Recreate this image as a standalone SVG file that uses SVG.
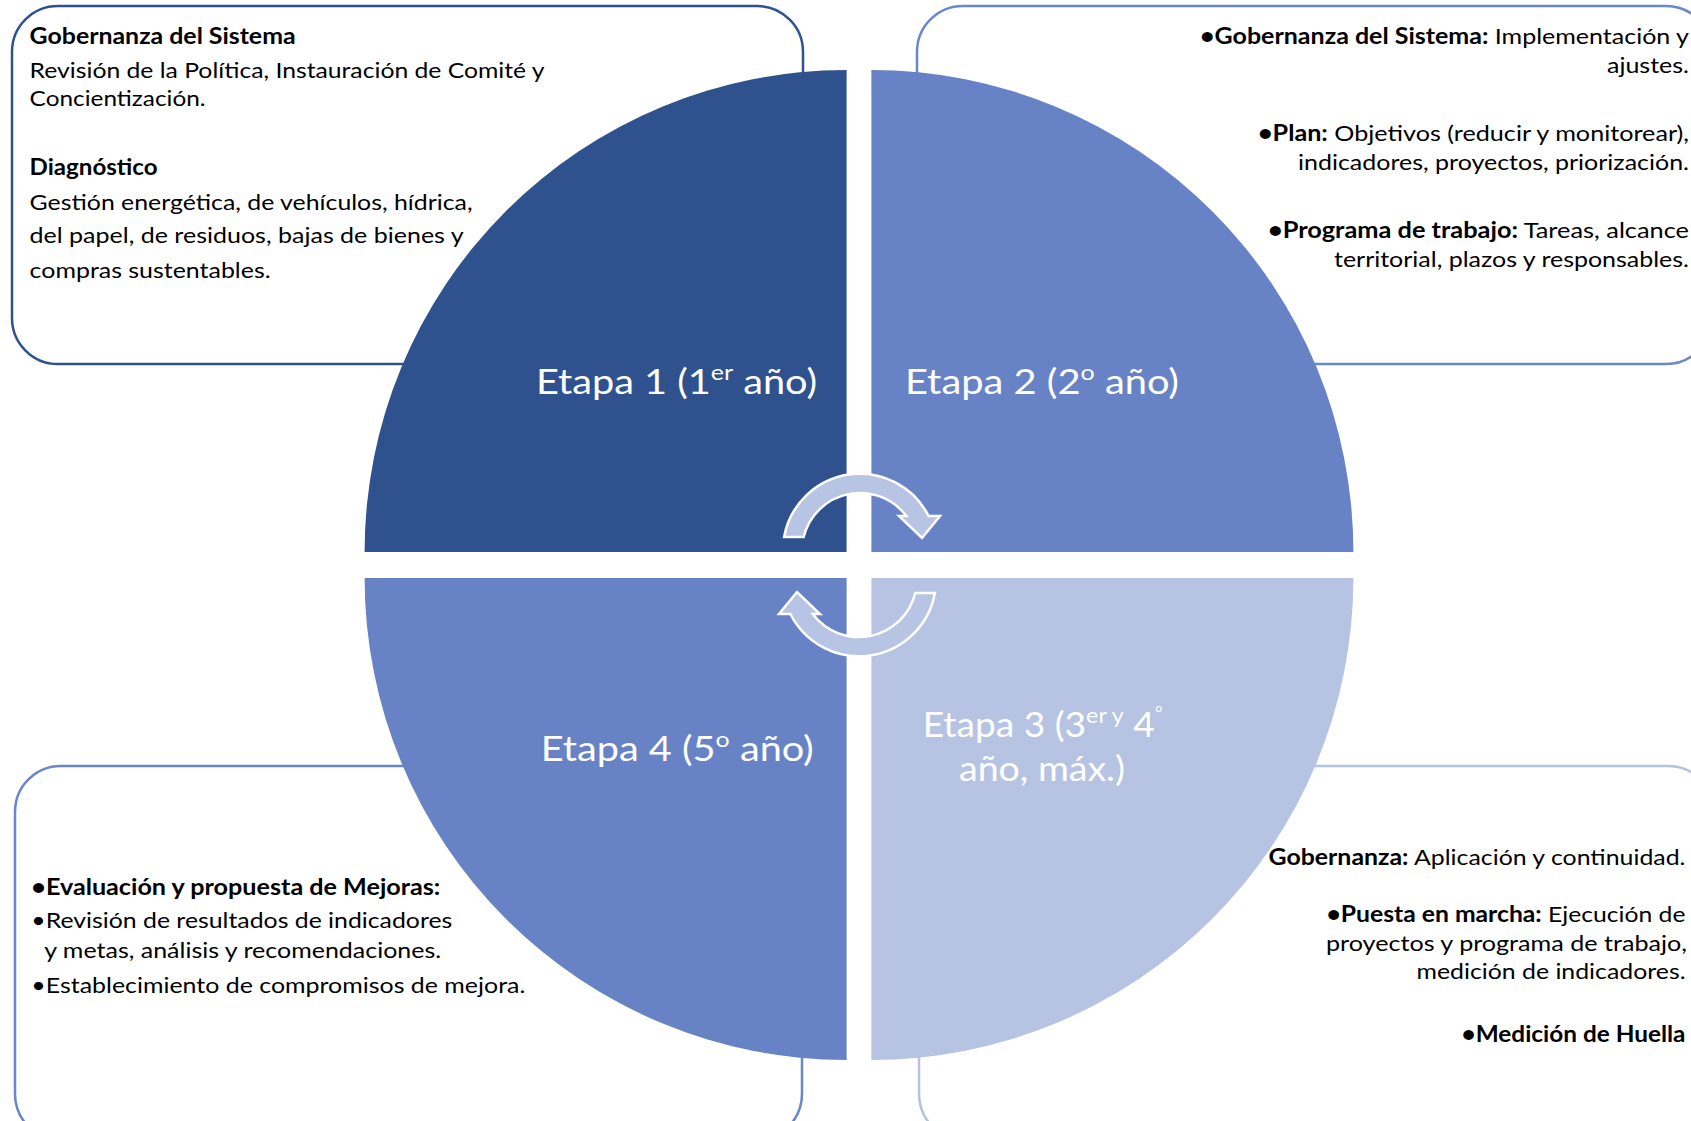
<svg xmlns="http://www.w3.org/2000/svg" width="1691" height="1121" viewBox="0 0 1691 1121">
<style>
.box{fill:#FFFFFF;stroke-width:2.5}
.b1{stroke:#2F528F}
.b2{stroke:#6A87C8}
.b3{stroke:#B4C3E3}
.t{font-family:Lato,"Open Sans","Liberation Sans",sans-serif;font-size:22px;fill:#000000}
.bd{font-weight:bold}
.st{font-family:Lato,"Open Sans","Liberation Sans",sans-serif;font-size:35px;fill:#FFFFFF}
.arrow{fill:#B7C4E3;stroke:#FFFFFF;stroke-width:2.5;stroke-linejoin:miter}
</style>
<rect width="1691" height="1121" fill="#FFFFFF"/>

<g id="box-etapa1"><rect class="box b1" x="12" y="6" width="791" height="358" rx="46"/></g>
<g id="box-etapa2"><rect class="box b2" x="917" y="6" width="795" height="358" rx="46"/></g>
<g id="box-etapa4"><rect class="box b2" x="15" y="766" width="787" height="374" rx="46"/></g>
<g id="box-etapa3"><rect class="box b3" x="919" y="766" width="795" height="374" rx="46"/></g>

<g id="etapa1"><path d="M846.6,552 L364.6,552 A482,482 0 0 1 846.6,70 Z" fill="#2F528F"/>
<text class="st" x="536" y="394" textLength="281" lengthAdjust="spacingAndGlyphs">Etapa 1 (1<tspan dy="-14" font-size="22">er</tspan><tspan dy="14"> año)</tspan></text></g>
<g id="etapa2"><path d="M871.4,552 L871.4,70 A482,482 0 0 1 1353.4,552 Z" fill="#6783C5"/>
<text class="st" x="905" y="394" textLength="274" lengthAdjust="spacingAndGlyphs">Etapa 2 (2<tspan dy="-14" font-size="22">o</tspan><tspan dy="14"> año)</tspan></text></g>
<g id="etapa3"><path d="M871.4,578 L1353.4,578 A482,482 0 0 1 871.4,1060 Z" fill="#B6C3E2"/>
<text class="st" x="922.7" y="737" textLength="240" lengthAdjust="spacingAndGlyphs">Etapa 3 (3<tspan dy="-14" font-size="22">er y</tspan><tspan dy="14"> 4</tspan><tspan dy="-18" font-size="18">°</tspan></text>
<text class="st" x="959" y="781" textLength="166" lengthAdjust="spacingAndGlyphs">año, máx.)</text></g>
<g id="etapa4"><path d="M846.6,578 L846.6,1060 A482,482 0 0 1 364.6,578 Z" fill="#6783C5"/>
<text class="st" x="540.7" y="761" textLength="273" lengthAdjust="spacingAndGlyphs">Etapa 4 (5<tspan dy="-14" font-size="22">o</tspan><tspan dy="14"> año)</tspan></text></g>

<g id="connectors">
<path class="arrow" d="M784.1,537 A77,77 0 0 1 928.6,516 L940,516 L922,538 L899,516 L906.3,516 A58,58 0 0 0 803.7,537 Z"/>
<path class="arrow" transform="rotate(180 859.5 565)" d="M784.1,537 A77,77 0 0 1 928.6,516 L940,516 L922,538 L899,516 L906.3,516 A58,58 0 0 0 803.7,537 Z"/>
</g>

<g id="text-etapa1">
<text class="t bd" x="29.6" y="44" textLength="266" lengthAdjust="spacingAndGlyphs">Gobernanza del Sistema</text>
<text class="t" x="29.6" y="78" textLength="515" lengthAdjust="spacingAndGlyphs">Revisión de la Política, Instauración de Comité y</text>
<text class="t" x="29.6" y="106" textLength="176" lengthAdjust="spacingAndGlyphs">Concientización.</text>
<text class="t bd" x="29.6" y="175" textLength="128" lengthAdjust="spacingAndGlyphs">Diagnóstico</text>
<text class="t" x="29.6" y="210" textLength="443" lengthAdjust="spacingAndGlyphs">Gestión energética, de vehículos, hídrica,</text>
<text class="t" x="29.6" y="243" textLength="434" lengthAdjust="spacingAndGlyphs">del papel, de residuos, bajas de bienes y</text>
<text class="t" x="29.6" y="278" textLength="241" lengthAdjust="spacingAndGlyphs">compras sustentables.</text>
</g>

<g id="text-etapa2" text-anchor="end">
<text class="t" x="1689" y="44" textLength="489" lengthAdjust="spacingAndGlyphs"><tspan class="bd">•Gobernanza del Sistema:</tspan> Implementación y</text>
<text class="t" x="1689" y="73" textLength="82" lengthAdjust="spacingAndGlyphs">ajustes.</text>
<text class="t" x="1689" y="141" textLength="431" lengthAdjust="spacingAndGlyphs"><tspan class="bd">•Plan:</tspan> Objetivos (reducir y monitorear),</text>
<text class="t" x="1689" y="170" textLength="391" lengthAdjust="spacingAndGlyphs">indicadores, proyectos, priorización.</text>
<text class="t" x="1689" y="238" textLength="421" lengthAdjust="spacingAndGlyphs"><tspan class="bd">•Programa de trabajo:</tspan> Tareas, alcance</text>
<text class="t" x="1689" y="267" textLength="355" lengthAdjust="spacingAndGlyphs">territorial, plazos y responsables.</text>
</g>

<g id="text-etapa3" text-anchor="end">
<text class="t" x="1685.5" y="865" textLength="417" lengthAdjust="spacingAndGlyphs"><tspan class="bd">Gobernanza:</tspan> Aplicación y continuidad.</text>
<text class="t" x="1685.5" y="921.5" textLength="359" lengthAdjust="spacingAndGlyphs"><tspan class="bd">•Puesta en marcha:</tspan> Ejecución de</text>
<text class="t" x="1687" y="950.5" textLength="361" lengthAdjust="spacingAndGlyphs">proyectos y programa de trabajo,</text>
<text class="t" x="1685.5" y="979" textLength="269" lengthAdjust="spacingAndGlyphs">medición de indicadores.</text>
<text class="t bd" x="1685.5" y="1042" textLength="224" lengthAdjust="spacingAndGlyphs">•Medición de Huella</text>
</g>

<g id="text-etapa4">
<text class="t bd" x="31.3" y="894.5" textLength="409" lengthAdjust="spacingAndGlyphs">•Evaluación y propuesta de Mejoras:</text>
<text class="t" x="31.3" y="928" textLength="421" lengthAdjust="spacingAndGlyphs">•Revisión de resultados de indicadores</text>
<text class="t" x="44.2" y="958" textLength="397" lengthAdjust="spacingAndGlyphs">y metas, análisis y recomendaciones.</text>
<text class="t" x="31.3" y="993" textLength="494" lengthAdjust="spacingAndGlyphs">•Establecimiento de compromisos de mejora.</text>
</g>
</svg>
